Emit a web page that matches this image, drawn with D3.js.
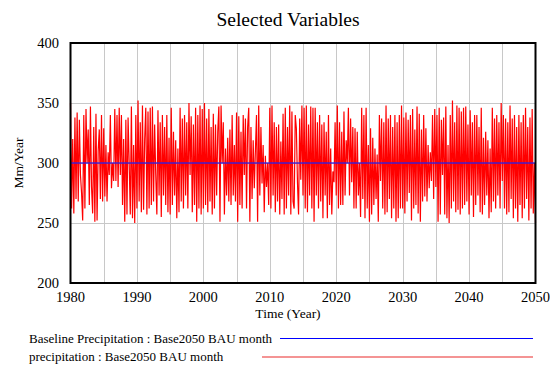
<!DOCTYPE html>
<html lang="en">
<head>
    <meta charset="UTF-8">
    <title>Selected Variables</title>
    <script src="https://d3js.org/d3.v7.min.js"></script>
    <style>
        body{
            margin: 0;
            background-color: white;
        }
        .grid line{
            stroke: #c8c8c8;
            stroke-width: 1px;
        }
    </style>
</head>
<body>
    <svg id='canvas' width='550' height='365' font-family='Liberation Serif' fill='black'></svg>
    <script>
        // chart data - six samples a year
        let startYear = 1980
        let endYear = 2050
        let perYear = 6
        let baseline = 300
        let yTicks = [200, 250, 300, 350, 400]
        let xTicks = [1980, 1990, 2000, 2010, 2020, 2030, 2040, 2050]
        let legendNames = ['Baseline Precipitation : Base2050 BAU month', 'precipitation : Base2050 BAU month']
        let precip = [
            350, 262, 320, 258, 338, 270,  342, 268, 336, 290, 275, 252,  // 1980-81
            340, 262, 345, 300, 328, 265,  347, 280, 258, 330, 251, 341,  // 1982-83
            252, 310, 328, 270, 340, 268,  329, 272, 315, 268, 309, 290,  // 1984-85
            340, 279, 300, 285, 345, 285,  340, 280, 346, 290, 340, 265,  // 1986-87
            320, 251, 336, 257, 338, 300,  257, 347, 254, 315, 250, 340,  // 1988-89
            262, 352, 268, 334, 259, 348,  261, 320, 346, 257, 343, 262,  // 1990-91
            346, 265, 347, 268, 332, 290,  257, 344, 273, 334, 255, 340,  // 1992-93
            273, 330, 265, 340, 259, 321,  257, 346, 265, 326, 273, 319,  // 1994-95
            254, 312, 259, 346, 268, 337,  262, 340, 273, 334, 262, 350,  // 1996-97
            290, 339, 259, 332, 265, 346,  251, 340, 262, 348, 257, 345,  // 1998-99
            262, 350, 265, 337, 259, 345,  268, 330, 257, 341, 262, 332,  // 2000-01
            273, 326, 347, 251, 348, 300,  334, 257, 312, 273, 321, 268,  // 2002-03
            328, 265, 340, 273, 315, 268,  342, 251, 339, 265, 326, 262,  // 2004-05
            340, 290, 337, 262, 330, 346,  251, 330, 270, 319, 279, 310,  // 2006-07
            340, 251, 348, 273, 330, 283,  315, 259, 306, 280, 300, 265,  // 2008-09
            346, 262, 348, 273, 334, 259,  330, 268, 332, 257, 318, 270,  // 2010-11
            341, 257, 346, 262, 330, 273,  348, 257, 343, 268, 262, 340,  // 2012-13
            329, 284, 257, 337, 286, 348,  273, 346, 262, 348, 259, 332,  // 2014-15
            273, 347, 262, 346, 251, 346,  273, 334, 262, 340, 268, 332,  // 2016-17
            254, 334, 273, 326, 254, 340,  265, 312, 257, 293, 284, 334,  // 2018-19
            273, 348, 262, 334, 265, 326,  265, 343, 273, 319, 300, 346,  // 2020-21
            273, 337, 284, 330, 262, 329,  262, 326, 273, 300, 255, 346,  // 2022-23
            270, 340, 254, 346, 262, 315,  251, 329, 257, 321, 265, 312,  // 2024-25
            270, 307, 251, 340, 285, 337,  262, 334, 257, 348, 259, 337,  // 2026-27
            270, 340, 254, 330, 262, 340,  251, 334, 254, 340, 262, 348,  // 2028-29
            262, 338, 258, 342, 268, 336,  275, 340, 252, 345, 262, 328,  // 2030-31
            265, 347, 258, 341, 251, 328,  268, 340, 272, 329, 268, 315,  // 2032-33
            279, 309, 285, 340, 270, 345,  280, 340, 251, 346, 257, 336,  // 2034-35
            290, 338, 257, 347, 254, 315,  250, 340, 262, 352, 268, 334,  // 2036-37
            259, 348, 261, 346, 257, 343,  262, 346, 265, 347, 268, 332,  // 2038-39
            257, 344, 273, 334, 255, 340,  265, 340, 273, 330, 259, 346,  // 2040-41
            257, 321, 265, 326, 273, 319,  254, 312, 259, 346, 268, 337,  // 2042-43
            262, 340, 273, 334, 262, 350,  285, 340, 262, 337, 257, 334,  // 2044-45
            259, 348, 270, 337, 254, 340,  262, 330, 251, 340, 265, 334,  // 2046-47
            254, 340, 262, 346, 270, 330,  252, 338, 262, 345, 258, 300,  // 2048-49
            250                                                           // 2050
        ]

        let svg = d3.select('#canvas')

        let plot = {left: 70.5, right: 535.5, top: 43, bottom: 283}

        let x = d3.scaleLinear()
            .domain([startYear, endYear])
            .range([plot.left, plot.right])
        let y = d3.scaleLinear()
            .domain([200, 400])
            .range([plot.bottom, plot.top])

        // title
        svg.append('text')
            .attr('x', 288)
            .attr('y', 26)
            .attr('text-anchor', 'middle')
            .attr('font-size', 19.5)
            .text('Selected Variables')

        // grid lines every 5 years and every 50
        let grid = svg.append('g').attr('class', 'grid')
        grid.selectAll('line.v')
            .data(d3.range(startYear + 5, endYear, 5))
            .enter()
            .append('line')
            .attr('class', 'v')
            .attr('x1', d => Math.round(x(d)) + 0.5)
            .attr('x2', d => Math.round(x(d)) + 0.5)
            .attr('y1', plot.top)
            .attr('y2', plot.bottom)
        grid.selectAll('line.h')
            .data(yTicks.slice(1, -1))
            .enter()
            .append('line')
            .attr('class', 'h')
            .attr('x1', plot.left)
            .attr('x2', plot.right)
            .attr('y1', d => Math.round(y(d)) + 0.5)
            .attr('y2', d => Math.round(y(d)) + 0.5)

        // red series
        let line = d3.line()
            .x((d, i) => x(startYear + i / perYear))
            .y(d => y(d))
        svg.append('path')
            .datum(precip)
            .attr('d', line)
            .attr('fill', 'none')
            .attr('stroke', 'red')
            .attr('stroke-width', 1.2)

        // blue baseline
        svg.append('line')
            .attr('x1', plot.left)
            .attr('x2', plot.right)
            .attr('y1', y(baseline))
            .attr('y2', y(baseline))
            .attr('stroke', '#2020f0')
            .attr('stroke-opacity', 0.85)
            .attr('stroke-width', 1.6)

        // frame
        svg.append('rect')
            .attr('x', plot.left)
            .attr('y', plot.top)
            .attr('width', plot.right - plot.left)
            .attr('height', plot.bottom - plot.top)
            .attr('fill', 'none')
            .attr('stroke', 'black')
            .attr('stroke-width', 2)

        // axes labels
        svg.selectAll('text.ytick')
            .data(yTicks)
            .enter()
            .append('text')
            .attr('class', 'ytick')
            .attr('x', 59)
            .attr('y', d => y(d) + 5)
            .attr('text-anchor', 'end')
            .attr('font-size', 14.5)
            .text(d => d)
        svg.selectAll('text.xtick')
            .data(xTicks)
            .enter()
            .append('text')
            .attr('class', 'xtick')
            .attr('x', d => x(d))
            .attr('y', 302)
            .attr('text-anchor', 'middle')
            .attr('font-size', 14.5)
            .text(d => d)

        svg.append('text')
            .attr('x', 288)
            .attr('y', 318)
            .attr('text-anchor', 'middle')
            .attr('font-size', 13.5)
            .text('Time (Year)')
        svg.append('text')
            .attr('transform', 'translate(23,163) rotate(-90)')
            .attr('text-anchor', 'middle')
            .attr('font-size', 13.5)
            .text('Mm/Year')

        // legend
        let legendColors = ['blue', '#f07070']
        let legendLineStart = [280, 262]
        let legend = svg.selectAll('g.legend')
            .data(legendNames)
            .enter()
            .append('g')
            .attr('class', 'legend')
        legend.append('text')
            .attr('x', 29)
            .attr('y', (d, i) => 343 + i * 18)
            .attr('font-size', 13)
            .text(d => d)
        legend.append('line')
            .attr('x1', (d, i) => legendLineStart[i])
            .attr('x2', 533)
            .attr('y1', (d, i) => i == 0 ? 338.5 : 357)
            .attr('y2', (d, i) => i == 0 ? 338.5 : 357)
            .attr('stroke', (d, i) => legendColors[i])
            .attr('stroke-width', (d, i) => i == 0 ? 1 : 1.5)
    </script>
</body>
</html>
